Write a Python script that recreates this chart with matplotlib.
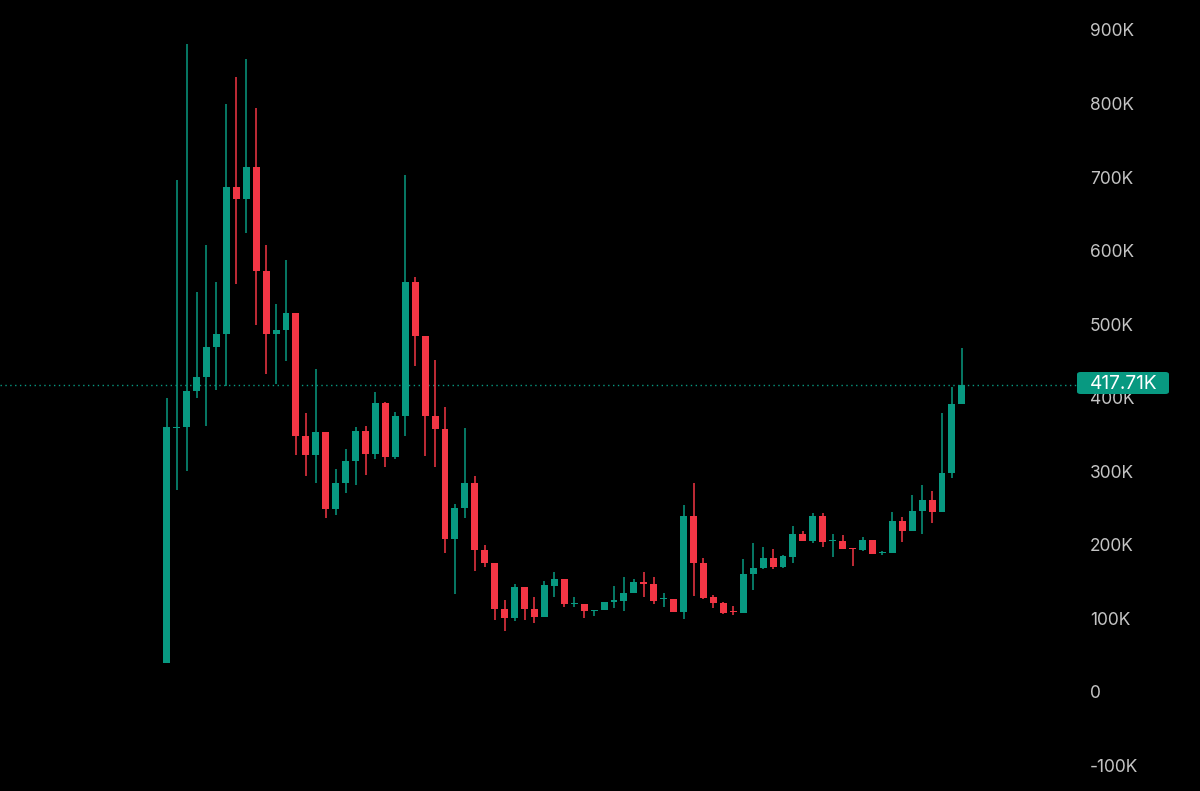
import matplotlib
matplotlib.use("Agg")
import matplotlib.pyplot as plt
from matplotlib.patches import FancyBboxPatch
from matplotlib.ticker import FuncFormatter

# OHLC values in thousands
opens = [39.4, 359, 360, 409, 428.9, 469.4, 486.4, 686.4, 670.6, 713.5,
         572, 486.4, 492, 515.6, 348.3, 322.3, 352.8, 248.4, 283.7, 314.5,
         355.3, 323.6, 392.4, 319.9, 375.2, 557.8, 484.4, 375.7, 357.1, 208.5,
         250.6, 283.7, 193.1, 174.9, 112.9, 101.1, 143.2, 112.9, 101.5, 144.1,
         154.1, 119.2, 119.7, 110.1, 111.5, 122.8, 123.7, 135.1, 150, 146.8,
         126, 126, 108.8, 239.7, 174.9, 128.7, 120.6, 109.8, 107.9, 160,
         168.1, 182.2, 169.5, 184, 214.4, 205.7, 239.7, 205, 205.7, 195.5,
         193.1, 206.7, 188.5, 189.4, 232.9, 218.9, 246.1, 261, 245.2, 297.3,
         391.5]
highs = [399, 696.6, 880.9, 544.4, 607.6, 556.8, 799.2, 835.8, 860, 793.5,
         607.6, 527.5, 587.8, 515.6, 379.3, 439.6, 352.8, 302.7, 329.9, 360.7,
         361.6, 408.3, 394.7, 381.1, 702.8, 564.6, 484.4, 451.3, 387.9, 255.2,
         358.5, 293.7, 199.9, 174.9, 125.1, 146.4, 143.2, 129.6, 150.9, 163.6,
         154.1, 128.7, 119.7, 112, 122.8, 144.1, 156.8, 153.2, 162.7, 155.9,
         135.1, 126, 254.2, 284.6, 182.6, 131.9, 122.8, 116.9, 180.4, 203,
         196.7, 194.4, 186.3, 225.7, 219.3, 242.9, 243.8, 214.4, 213.4, 195.5,
         211.2, 206.7, 191.7, 245.2, 238.4, 267.8, 281.4, 273.7, 378.8, 415.1,
         467.2]
lows = [39.4, 274, 299.8, 399, 361, 410.3, 415.9, 554, 624.4, 499.3,
        432.8, 418.7, 449.7, 322.3, 293, 284.6, 236.2, 240.2, 270.1, 281.4,
        295, 316.3, 306.3, 316.3, 348, 443.2, 320.9, 306.3, 188.5, 132.8,
        236.2, 165, 170.4, 97.9, 83, 97, 97.9, 93.4, 101.5, 128.7,
        116, 116, 100.2, 103.8, 111.5, 114.7, 110.6, 135, 129.6, 119.7,
        115.1, 108.8, 98.8, 131, 127, 113.8, 106.1, 104.7, 107.9, 138.7,
        167.7, 167.7, 169, 174.9, 205.7, 203, 197.6, 184, 194, 171.8,
        191.7, 187.2, 186.3, 188.5, 204.4, 218.9, 214.4, 229.3, 245.2, 290.5,
        391.5]
closes = [359.6, 360, 409, 428.9, 469.4, 486.4, 686.4, 670.6, 713.5, 572,
          486.4, 492, 515.6, 348.3, 322.3, 352.8, 248.4, 283.7, 314.5, 355.3,
          323.6, 392.4, 319.9, 375.2, 557.8, 484.4, 375.7, 357.1, 208.5, 250.6,
          283.7, 193.1, 174.9, 112.9, 101.1, 143.2, 112.9, 101.5, 145.5, 154.1,
          119.2, 121.5, 110.1, 112, 122.8, 125.1, 135.1, 150, 146.8, 124.2,
          128.3, 108.8, 239.7, 174.9, 128.3, 120.6, 107.9, 108.3, 160, 169,
          182.2, 169.5, 184.9, 214.4, 205.7, 239.7, 203.5, 206.5, 194, 194,
          206.7, 187.2, 190, 232.9, 218.9, 246.1, 261, 245.2, 297.3, 391.5,
          417.71]
last_price = 417.71
yticks = [-100, 0, 100, 200, 300, 400, 500, 600, 700, 800, 900]

up_col = "#089981"
down_col = "#f23645"

W, H = 1200, 791
fig = plt.figure(figsize=(12, 7.91), dpi=100, facecolor="black")
ax = fig.add_axes([0, 0, 1077 / W, 1])
ax.set_facecolor("black")

xs = list(range(len(opens)))
cols = [up_col if c >= o else down_col for o, c in zip(opens, closes)]
bottoms = [min(o, c) for o, c in zip(opens, closes)]
heights = [max(abs(c - o), 1.5) for o, c in zip(opens, closes)]

ax.vlines(xs, lows, highs, colors=cols, linewidth=1.1, zorder=2)
ax.bar(xs, heights, bottom=bottoms, width=0.7, color=cols, zorder=3)

# last price line
ax.axhline(last_price, color=up_col, linestyle=(0, (1, 2.5)), linewidth=1, zorder=1)

step = 9.94
ax.set_xlim(-166.7 / step, (1077 - 166.7) / step)
ax.set_ylim((692 - H) / 0.7356, 692 / 0.7356)

ax.yaxis.tick_right()
ax.set_yticks(yticks)
ax.yaxis.set_major_formatter(FuncFormatter(lambda v, p: "0" if v == 0 else f"{int(v)}K"))
ax.tick_params(axis="y", length=0, pad=9.4, labelsize=12.5, labelcolor="#c4c4c4")
for lab in ax.get_yticklabels():
    lab.set_fontfamily(["Inter", "DejaVu Sans"])
ax.set_xticks([])
for s in ax.spines.values():
    s.set_visible(False)

# price tag box on the axis
box = FancyBboxPatch((1077 / W, 1 - 394 / H), 92 / W, 22 / H,
                     boxstyle="round,pad=0,rounding_size=0.003",
                     transform=fig.transFigure, fc=up_col, ec="none", zorder=5)
fig.patches.append(box)
fig.text(1123.5 / W, 1 - 383.5 / H, f"{last_price:.2f}K", ha="center", va="center",
         color="white", fontsize=13.8, family=["Inter", "DejaVu Sans"], zorder=6)

fig.savefig("out.png", dpi=100, facecolor="black")
